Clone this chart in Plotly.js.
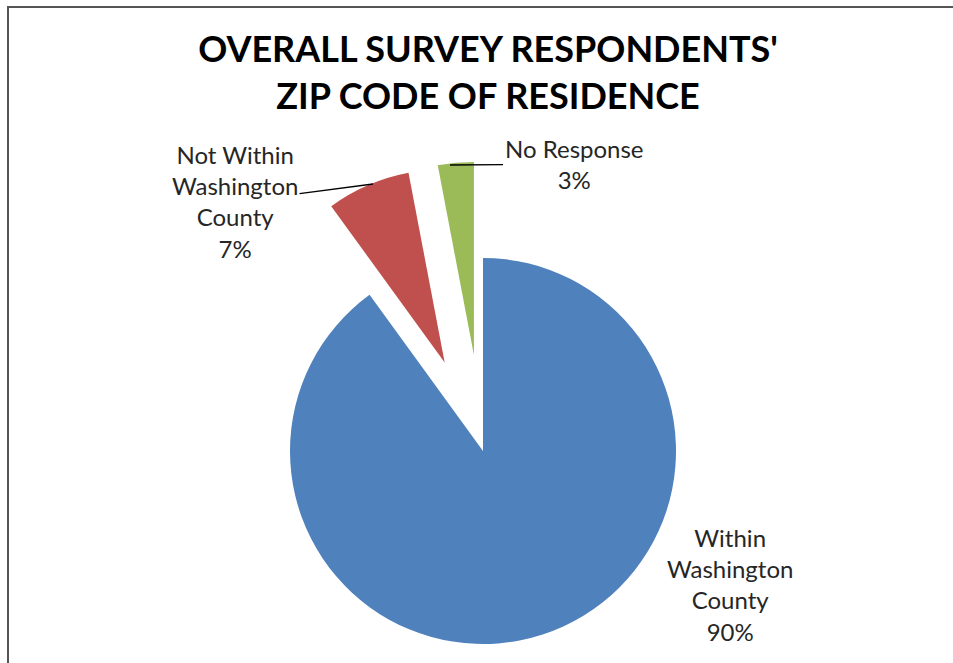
<!DOCTYPE html>
<html>
<head>
<meta charset="utf-8">
<script src="https://cdn.plot.ly/plotly-3.0.1.min.js"></script>
<style>
  html, body { margin: 0; padding: 0; overflow: hidden; background: #ffffff; }
  #wrap { position: relative; width: 953px; height: 663px; overflow: hidden; }
  #chart { position: absolute; left: 0; top: 0; width: 990px; height: 770px; }
  #frame { position: absolute; left: 7px; top: 6px; width: 1000px; height: 800px;
           border-left: 2px solid #555555; border-top: 2px solid #555555;
           pointer-events: none; z-index: 5; }
</style>
</head>
<body>
<div id="wrap">
  <div id="chart"></div>
  <div id="frame"></div>
</div>
<script>
// ---- data ----
const categories = ['Within Washington County', 'Not Within Washington County', 'No Response'];
const values = [90, 7, 3];
const labelLines = [
  ['Within', 'Washington', 'County'],
  ['Not Within', 'Washington', 'County'],
  ['No Response']
];
const colors = ['#4F81BD', '#C0504D', '#9BBB59'];
const pulls = [0, 0.5, 0.5];
const titleLines = ["OVERALL SURVEY RESPONDENTS'", 'ZIP CODE OF RESIDENCE'];

// ---- layout helpers (pixel -> paper) ----
const W = 990, H = 770;
const px = v => v / W;
const py = v => 1 - v / H;

const labelText = i => labelLines[i].concat([values[i] + '%']).join('<br>');
const labelFont = { family: 'Lato, "Open Sans", sans-serif', size: 24, color: '#262626' };

const trace = {
  type: 'pie',
  labels: categories,
  values: values,
  sort: false,
  direction: 'clockwise',
  rotation: 0,
  pull: pulls,
  marker: { colors: colors, line: { width: 0 } },
  textinfo: 'none',
  hoverinfo: 'label+percent',
  showlegend: false,
  domain: { x: [px(193.5), px(772.5)], y: [py(740.5), py(161.5)] }
};

const layout = {
  width: W, height: H,
  margin: { l: 0, r: 0, t: 0, b: 0 },
  paper_bgcolor: '#ffffff',
  plot_bgcolor: '#ffffff',
  showlegend: false,
  title: {
    text: '<b>' + titleLines.join('<br>') + '</b>',
    font: { family: 'Lato, "Open Sans", sans-serif', size: 36, color: '#000000' },
    x: px(488), xref: 'paper', xanchor: 'center',
    y: 1 - 62 / H, yref: 'container', yanchor: 'top'
  },
  annotations: [
    { // Within Washington County
      text: labelText(0), font: labelFont, showarrow: false,
      xref: 'paper', yref: 'paper', x: px(730), y: py(584),
      xanchor: 'center', yanchor: 'middle', align: 'center'
    },
    { // Not Within Washington County
      text: labelText(1), font: labelFont, showarrow: true,
      arrowhead: 0, arrowwidth: 1.3, arrowcolor: '#000000', standoff: 0,
      xref: 'paper', yref: 'paper', x: px(373), y: py(184),
      axref: 'pixel', ayref: 'pixel', ax: 235 - 373, ay: 202 - 184,
      align: 'center'
    },
    { // No Response
      text: labelText(2), font: labelFont, showarrow: true,
      arrowhead: 0, arrowwidth: 1.3, arrowcolor: '#000000', standoff: 0,
      xref: 'paper', yref: 'paper', x: px(450), y: py(165),
      axref: 'pixel', ayref: 'pixel', ax: 574 - 450, ay: 164 - 165,
      align: 'center'
    }
  ]
};

Plotly.newPlot('chart', [trace], layout, { displayModeBar: false, staticPlot: true });
</script>
</body>
</html>
